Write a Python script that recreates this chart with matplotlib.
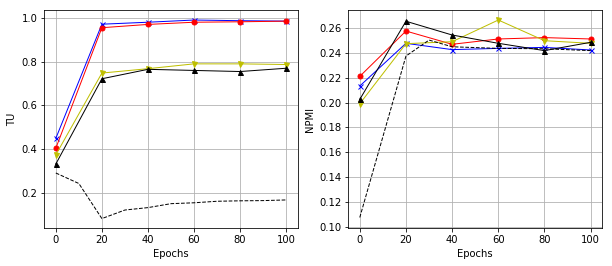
import matplotlib
matplotlib.use('Agg')
import matplotlib.pyplot as plt

# epochs
epochs = [0, 20, 40, 60, 80, 100]
base_epochs_tu = [0, 10, 20, 30, 40, 50, 60, 70, 80, 90, 100]
base_epochs_npmi = [0, 20, 30, 40, 60, 80, 100]

# TU values
tu_blue = [0.450, 0.971, 0.980, 0.990, 0.987, 0.985]
tu_red = [0.405, 0.955, 0.970, 0.980, 0.982, 0.985]
tu_yellow = [0.375, 0.748, 0.768, 0.790, 0.790, 0.787]
tu_black = [0.333, 0.722, 0.765, 0.760, 0.755, 0.770]
tu_base = [0.292, 0.244, 0.084, 0.123, 0.134, 0.152, 0.156, 0.163, 0.165, 0.166, 0.169]

# NPMI values
npmi_blue = [0.2134, 0.2479, 0.2428, 0.2438, 0.2446, 0.2425]
npmi_red = [0.2212, 0.2578, 0.2471, 0.2514, 0.2525, 0.2514]
npmi_yellow = [0.1991, 0.2476, 0.2492, 0.2667, 0.2500, 0.2479]
npmi_black = [0.2026, 0.2657, 0.2546, 0.2479, 0.2420, 0.2487]
npmi_base = [0.1073, 0.2376, 0.2505, 0.2451, 0.2438, 0.2435, 0.2420]

fig = plt.figure(figsize=(8.5, 266 / 72), dpi=72)
ax1 = fig.add_axes([0.0724, 0.141, 0.414, 0.821])
ax2 = fig.add_axes([0.569, 0.141, 0.415, 0.821])

def draw(ax, blue, red, yellow, black, base_x, base):
    ax.plot(epochs, blue, 'b-', marker='x', ms=5, lw=1)
    ax.plot(epochs, red, 'r-', marker='o', ms=5, lw=1)
    ax.plot(epochs, yellow, 'y-', marker='v', ms=5, lw=1)
    ax.plot(epochs, black, 'k-', marker='^', ms=5, lw=1)
    ax.plot(base_x, base, 'k--', lw=1)
    ax.grid(True, color='#b0b0b0', lw=0.8)
    ax.set_xlabel('Epochs', fontsize=10)
    ax.tick_params(labelsize=10)

draw(ax1, tu_blue, tu_red, tu_yellow, tu_black, base_epochs_tu, tu_base)
ax1.set_ylabel('TU', fontsize=10)
ax1.set_yticks([0.2, 0.4, 0.6, 0.8, 1.0])

draw(ax2, npmi_blue, npmi_red, npmi_yellow, npmi_black, base_epochs_npmi, npmi_base)
ax2.set_ylabel('NPMI', fontsize=10)
ax2.set_ylim(0.0984, 0.2747)

for ax in (ax1, ax2):
    ax.set_xticks(epochs)

fig.savefig('out.png', dpi=72)
